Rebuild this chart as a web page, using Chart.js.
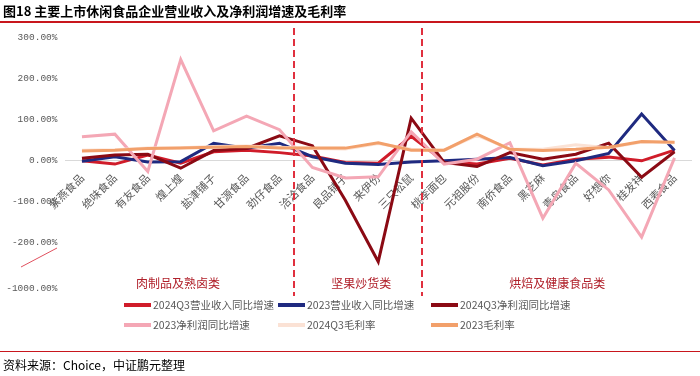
<!DOCTYPE html>
<html>
<head>
<meta charset="utf-8">
<script src="https://cdn.jsdelivr.net/npm/chart.js@4.4.1/dist/chart.umd.min.js"></script>
<style>
  body { margin: 0; background: #fff; }
  #wrap { position: relative; width: 700px; height: 376px; overflow: hidden; font-family: "Noto Sans CJK SC", sans-serif; }
  #title { position: absolute; left: 3px; top: 1px; font-size: 13px; font-weight: bold; color: #000; white-space: nowrap; }
  .rule { position: absolute; left: 0; width: 700px; background: #c8161d; }
  #source { position: absolute; left: 3px; top: 356px; font-size: 12px; color: #000; white-space: nowrap; }
  canvas { position: absolute; left: 0; top: 0; }
</style>
</head>
<body>
<div id="wrap">
  <canvas id="chart" width="700" height="376"></canvas>
  <div id="title">图18 主要上市休闲食品企业营业收入及净利润增速及毛利率</div>
  <div class="rule" style="top:21px;height:2px;"></div>
  <div class="rule" style="top:351px;height:1px;"></div>
  <div id="source">资料来源：Choice，中证鹏元整理</div>
</div>
<script>
// companies grouped: meat/braised, nuts, bakery & health food
const companies = ["紫燕食品", "绝味食品", "有友食品", "煌上煌", "盐津铺子", "甘源食品", "劲仔食品",
  "洽洽食品", "良品铺子", "来伊份", "三只松鼠",
  "桃李面包", "元祖股份", "南侨食品", "黑芝麻", "青岛食品", "好想你", "桂发祥", "西麦食品"];

// values in %
const rev2024Q3 = [-2, -10, 12, -8, 20, 24, 18, 10, -6, -8, 58, -4, -10, 4, -12, 2, 7, -2, 24];
const rev2023 = [-3, 8, -5, -4, 41, 29, 41, 8, -8, -11, -5, -2, 2, 6, -14, -2, 16, 112, 23];
const np2024Q3 = [4, 12, 14, -20, 23, 28, 59, 35, -98, -248, 102, -6, -16, 18, 2, 14, 41, -42, 20];
const np2023 = [57, 63, -28, 245, 71, 107, 74, -18, -44, -41, 69, -10, 2, 42, -142, -8, -73, -188, 5];
const margin2024Q3 = [24, 25, 29, 30, 33, 34, 31, 28, 27, 40, 26, 24, 60, 27, 26, 37, 30, 44, 42];
const margin2023 = [22, 24, 28, 29, 31, 33, 29, 29, 29, 42, 24, 24, 63, 26, 23, 26, 31, 45, 43];

const seriesNames = ["2024Q3营业收入同比增速", "2023营业收入同比增速", "2024Q3净利润同比增速",
  "2023净利润同比增速", "2024Q3毛利率", "2023毛利率"];
const seriesColors = ["#d01c2a", "#1f2a80", "#8b0a14", "#f4a7b5", "#fbe2d5", "#f2a06b"];

const yTicks = [-300, -200, -100, 0, 100, 200, 300];
// bottom label sits a bit lower in the original (broken axis)
const yTickLabels = [["", "-1000.00%"], "-200.00%", "-100.00%", "0.00%", "100.00%", "200.00%", "300.00%"];

// group dividers and labels (category index positions)
const dividerAt = [6.44, 10.33];
const groupNames = ["肉制品及熟卤类", "坚果炒货类", "烘焙及健康食品类"];
const groupCenters = [2.92, 8.48, 14.44];

const deco = {
  id: "deco",
  afterDraw(chart) {
    const { ctx } = chart;
    const xs = chart.scales.x;
    ctx.save();

    // dashed dividers
    ctx.strokeStyle = "#e0303e";
    ctx.lineWidth = 2;
    ctx.setLineDash([7, 4]);
    dividerAt.forEach(v => {
      const x = Math.round(xs.getPixelForValue(v));
      ctx.beginPath();
      ctx.moveTo(x, 28);
      ctx.lineTo(x, 296);
      ctx.stroke();
    });
    ctx.setLineDash([]);

    // group labels
    ctx.fillStyle = "#b0202a";
    ctx.font = "12px 'Noto Sans CJK SC'";
    ctx.textAlign = "center";
    ctx.textBaseline = "middle";
    groupNames.forEach((g, i) => {
      ctx.fillText(g, xs.getPixelForValue(groupCenters[i]), 283);
    });

    // axis break mark
    ctx.strokeStyle = "#e0505e";
    ctx.lineWidth = 1;
    ctx.beginPath();
    ctx.moveTo(21, 267);
    ctx.lineTo(57, 248);
    ctx.stroke();

    // legend, 3 columns x 2 rows
    const colX = [124, 278, 431];
    const rowY = [305, 325];
    ctx.font = "10.5px 'Noto Sans CJK SC'";
    ctx.textAlign = "left";
    seriesNames.forEach((name, i) => {
      const x = colX[i % 3], y = rowY[Math.floor(i / 3)];
      ctx.strokeStyle = seriesColors[i];
      ctx.lineWidth = 4;
      ctx.beginPath();
      ctx.moveTo(x, y);
      ctx.lineTo(x + 27, y);
      ctx.stroke();
      ctx.fillStyle = "#595959";
      ctx.fillText(name, x + 29, y);
    });

    ctx.restore();
  }
};

const allSeries = [rev2024Q3, rev2023, np2024Q3, np2023, margin2024Q3, margin2023];

new Chart(document.getElementById("chart"), {
  type: "line",
  data: {
    labels: companies,
    datasets: allSeries.map((d, i) => ({
      label: seriesNames[i],
      data: d,
      borderColor: seriesColors[i],
      backgroundColor: seriesColors[i],
      borderWidth: 3,
      pointRadius: 0,
      tension: 0,
      order: allSeries.length - 1 - i
    }))
  },
  options: {
    responsive: false,
    animation: false,
    layout: { padding: { top: 37, bottom: 93, left: 0, right: 9 } },
    plugins: { legend: { display: false }, tooltip: { enabled: false } },
    scales: {
      x: {
        position: { y: 0 },
        offset: true,
        grid: { display: false, drawTicks: false },
        border: { display: true, color: "#d9d9d9", width: 1 },
        ticks: {
          autoSkip: false,
          minRotation: 45,
          maxRotation: 45,
          padding: 11,
          color: "#595959",
          font: { family: "Noto Sans CJK SC", size: 11 }
        }
      },
      y: {
        min: -300,
        max: 300,
        afterFit: s => { s.width = 65.5; },
        afterBuildTicks: s => { s.ticks = yTicks.map(v => ({ value: v })); },
        grid: { display: false, drawTicks: false },
        border: { display: false },
        ticks: {
          padding: 8,
          color: "#595959",
          font: { family: "Liberation Mono", size: 9.5 },
          callback: v => yTickLabels[yTicks.indexOf(v)]
        }
      }
    }
  },
  plugins: [deco]
});
</script>
</body>
</html>
